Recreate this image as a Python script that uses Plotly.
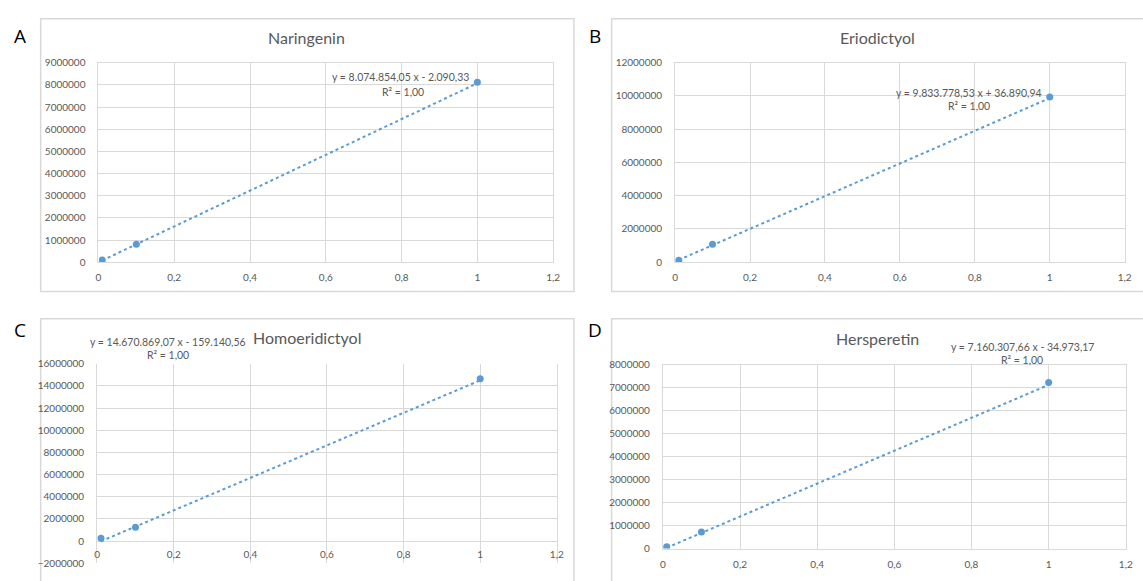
import plotly.graph_objects as go

# ---------------- data ----------------
concentration = [0.01, 0.1, 1]
area_naringenin = [100000, 810000, 8120000]
area_eriodictyol = [120000, 1080000, 9940000]
area_homoeriodictyol = [250000, 1240000, 14650000]
area_hesperetin = [80000, 720000, 7230000]

compound_names = ["Naringenin", "Eriodictyol", "Homoeridictyol", "Hersperetin"]
panel_letters = ["A", "B", "C", "D"]
slopes = [8074854.05, 9833778.53, 14670869.07, 7160307.66]
intercepts = [-2090.33, 36890.94, -159140.56, -34973.17]
r_squared = [1.00, 1.00, 1.00, 1.00]

x_ticks = [0, 0.2, 0.4, 0.6, 0.8, 1, 1.2]
y_ranges = [(0, 9000000), (0, 12000000), (-2000000, 16000000), (0, 8000000)]
y_dticks = [1000000, 2000000, 2000000, 1000000]

series = [area_naringenin, area_eriodictyol, area_homoeriodictyol, area_hesperetin]

# ---------------- style ----------------
W, H = 1143, 581
BLUE = "#5B9BD5"
GRID = "#D9D9D9"
TXT = "#595959"
FONT = "Lato"


def px_x(v):
    return v / W


def px_y(v):
    return 1 - v / H


def eu(v):
    s = f"{abs(v):,.2f}"
    s = s.replace(",", "X").replace(".", ",").replace("X", ".")
    return s


# plot-area pixel boxes (left, right, top, bottom)
plot_boxes = [(96.3, 555, 57, 261), (678, 1131.6, 57, 261),
              (95, 558.7, 365, 569), (665.7, 1132.7, 366, 554)]
panel_frames = [(38, 576, 12, 291), (614, 1160, 12, 291),
                (38, 576, 319, 600), (614, 1160, 319, 600)]
title_pos = [(306, 31), (882, 31), (307, 338), (882, 339)]
letter_pos = [(17, 30), (597, 30), (17, 330), (597, 330)]
eq_pos = [(401, 72, 404, 87), (975, 88, 975, 101.5),
          (166, 343, 166, 356), (1028, 348, 1028, 361)]

fig = go.Figure()
annotations = []
shapes = []

for i in range(4):
    n = "" if i == 0 else str(i + 1)
    xa, ya = "x" + n, "y" + n
    ys = series[i]
    # markers
    fig.add_trace(go.Scatter(
        x=concentration, y=ys, mode="markers",
        marker=dict(color=BLUE, size=7),
        xaxis=xa, yaxis=ya, showlegend=False, hoverinfo="x+y"))
    # linear trendline from the displayed equation
    tx = [concentration[0], concentration[-1]]
    ty = [slopes[i] * v + intercepts[i] for v in tx]
    fig.add_trace(go.Scatter(
        x=tx, y=ty, mode="lines",
        line=dict(color=BLUE, width=2, dash="dot"),
        xaxis=xa, yaxis=ya, showlegend=False, hoverinfo="skip"))

    l, r, t, b = plot_boxes[i]
    y0, y1 = y_ranges[i]
    ydom = [px_y(b), px_y(t)]
    xaxis = dict(
        domain=[px_x(l), px_x(r)], range=[0, 1.2], tickvals=x_ticks,
        showgrid=True, gridcolor=GRID, gridwidth=1,
        zeroline=False, showline=True, linecolor=GRID, mirror=True,
        ticks="", tickfont=dict(family=FONT, size=10, color=TXT),
        ticklabelstandoff=6, fixedrange=True)
    if y0 < 0:
        pos = ydom[0] + (0 - y0) / (y1 - y0) * (ydom[1] - ydom[0])
        xaxis.update(anchor="free", position=pos, showline=False, mirror=False)
    else:
        xaxis.update(anchor=ya)
    yaxis = dict(
        domain=ydom, range=[y0, y1], dtick=y_dticks[i], tick0=0,
        tickformat="d", anchor=xa,
        showgrid=True, gridcolor=GRID, gridwidth=1,
        zeroline=True, zerolinecolor=GRID, zerolinewidth=1,
        showline=True, linecolor=GRID, mirror=True,
        ticks="", tickfont=dict(family=FONT, size=10, color=TXT),
        ticklabelstandoff=10, fixedrange=True)
    fig.update_layout({"xaxis" + n: xaxis, "yaxis" + n: yaxis})

    # frame around each chart
    fl, fr, ft, fb = panel_frames[i]
    shapes.append(dict(type="rect", xref="paper", yref="paper",
                       x0=px_x(fl), x1=px_x(fr), y0=px_y(fb), y1=px_y(ft),
                       line=dict(color=GRID, width=1.5), layer="below"))

    # title
    tx_, ty_ = title_pos[i]
    annotations.append(dict(text=compound_names[i], xref="paper", yref="paper",
                            x=px_x(tx_), y=px_y(ty_), showarrow=False,
                            xanchor="center", yanchor="middle",
                            font=dict(family=FONT, size=16, color=TXT)))
    # panel letter
    lx, ly = letter_pos[i]
    annotations.append(dict(text=panel_letters[i], xref="paper", yref="paper",
                            x=px_x(lx), y=px_y(ly), showarrow=False,
                            xanchor="center", yanchor="middle",
                            font=dict(family="Open Sans", size=19, color="#000000")))
    # equation + R²
    sign = "-" if intercepts[i] < 0 else "+"
    eq = f"y = {eu(slopes[i])} x {sign} {eu(intercepts[i])}"
    r2 = "R² = " + f"{r_squared[i]:.2f}".replace(".", ",")
    ex, ey, rx, ry = eq_pos[i]
    annotations.append(dict(text=eq, xref="paper", yref="paper",
                            x=px_x(ex), y=px_y(ey), showarrow=False,
                            xanchor="center", yanchor="middle",
                            font=dict(family=FONT, size=10.5, color=TXT)))
    annotations.append(dict(text=r2, xref="paper", yref="paper",
                            x=px_x(rx), y=px_y(ry), showarrow=False,
                            xanchor="center", yanchor="middle",
                            font=dict(family=FONT, size=10.5, color=TXT)))

fig.update_layout(
    width=W, height=H,
    margin=dict(l=0, r=0, t=0, b=0),
    paper_bgcolor="white", plot_bgcolor="white",
    separators=",.",
    showlegend=False,
    annotations=annotations,
    shapes=shapes,
    font=dict(family=FONT, color=TXT),
)

fig.write_html("out.html",
               config={"displayModeBar": False},
               post_script="document.body.style.margin='0px';"
                           "document.body.style.overflow='hidden';")
